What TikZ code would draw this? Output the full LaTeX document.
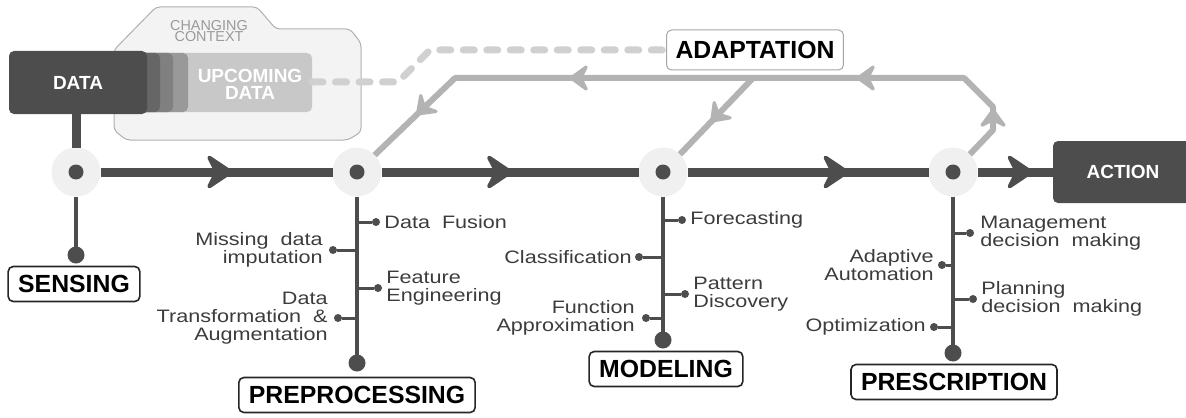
\documentclass[tikz,border=0pt]{standalone}
\usepackage{fontspec}
\setmainfont{Liberation Sans}
\newfontfamily\lblfont[FakeStretch=1.2,WordSpace=2]{Liberation Sans}
\usetikzlibrary{positioning,arrows.meta,decorations.markings}
\definecolor{flowgray}{HTML}{4D4D4D}
\definecolor{hubgray}{HTML}{F0F0F0}
\definecolor{fbgray}{HTML}{B3B3B3}
\definecolor{dashgray}{HTML}{D0D0D0}
\definecolor{lblgray}{HTML}{3C3C3C}
\definecolor{ctxfill}{HTML}{F3F3F3}
\definecolor{ctxline}{HTML}{B0B0B0}
\definecolor{ctxtext}{HTML}{9A9A9A}
\definecolor{upgray}{HTML}{C8C8C8}
\definecolor{layera}{HTML}{999999}
\definecolor{layerb}{HTML}{808080}
\definecolor{layerc}{HTML}{666666}
\tikzset{
  flowhead/.tip={Stealth[length=15pt,width=20pt,inset=5pt,round,line width=2pt]},
  fbhead/.tip={Stealth[length=11pt,width=16pt,inset=4pt,round,line width=1.6pt]},
  hub/.style={circle, fill=hubgray, minimum size=24.5pt, inner sep=0pt, outer sep=0pt},
  bigdot/.style={circle, fill=flowgray, minimum size=8.5pt, inner sep=0pt, outer sep=0pt},
  tdot/.style={circle, fill=flowgray, minimum size=4pt, inner sep=0pt, outer sep=0pt},
  stage/.style={draw=black!85, line width=0.8pt, fill=white, rounded corners=2.5pt,
    font=\fontsize{12.4}{14}\selectfont\bfseries, inner xsep=5pt, inner ysep=0pt, minimum height=17.5pt},
  lbl/.style={font=\lblfont\fontsize{9}{9}\selectfont, text=lblgray, inner sep=0.5pt},
  darkbox/.style={fill=flowgray, rounded corners=2.5pt, text=white, font=\fontsize{9.5}{8.5}\selectfont\bfseries},
  flow/.style={draw=flowgray, line width=4.5pt},
  stem/.style={draw=flowgray, line width=2pt},
  tick/.style={draw=flowgray, line width=1.5pt},
  fback/.style={draw=fbgray, line width=3pt, line join=round},
  ctxdash/.style={draw=dashgray, line width=3.5pt, line cap=round, line join=round, dash pattern=on 5.5pt off 6.25pt},
  flowtip/.style={postaction={decorate}, decoration={markings, mark=at position #1 with {\arrow{flowhead}}}},
  fbtip/.style={postaction={decorate}, decoration={markings, mark=at position #1 with {\arrow{fbhead}}}}
}
\begin{document}
\begin{tikzpicture}[x=0.5pt,y=-0.5pt]
\useasboundingbox (0,0) rectangle (1186,417);

\filldraw[fill=ctxfill, draw=ctxline, line width=0.5pt, rounded corners=2pt]
  (114,50) -- (114,130) -- (126,140) -- (348,140) -- (361,132) -- (361,43)
  -- (350,29) -- (276,29) -- (257,7) -- (156,7) -- cycle;
\node(ctx)      [font=\fontsize{7.2}{5.8}\selectfont, text=ctxtext, align=center] at (209,31) {CHANGING\\CONTEXT};

\fill[upgray, rounded corners=2.5pt] (140,53) rectangle (312,112);
\fill[layera, rounded corners=2.5pt] (140,53) rectangle (188,112);
\fill[layerb, rounded corners=2.5pt] (140,53) rectangle (173,112);
\fill[layerc, rounded corners=2.5pt] (140,53) rectangle (160,112);
\node(data)     [darkbox, minimum width=69pt, minimum height=31.5pt] at (78,82.5) {DATA};
\node(upc)      [text=white, font=\fontsize{9.5}{8.5}\selectfont\bfseries, align=center] at (250,84) {UPCOMING\\DATA};
\coordinate(upend) at (312,82);

\node(adapt)    [stage, draw=gray!70, line width=0.5pt, minimum height=20pt, inner xsep=4.5pt] at (755,50) {ADAPTATION};
\node(act)      [darkbox, minimum width=70pt, minimum height=31pt] at (1123,172) {ACTION};

\node(sens)     [hub] at (76,172)  {};
\node(prep)     [hub] at (357,172) {};
\node(model)    [hub] at (663,172) {};
\node(presc)    [hub] at (953,172) {};

\coordinate(fb1) at (993,130);
\coordinate(fb2) at (993,107);
\coordinate(fb3) at (964,78);
\coordinate(fb4) at (455,78);
\coordinate(fb5) at (753,78);

\draw[ctxdash]  (upend) -- (398,82) -- (430,50) -- (adapt);
\draw[fback, postaction={decorate}, decoration={markings,
    mark=at position 27.5pt with {\arrow{fbhead}},
    mark=at position 102.5pt with {\arrow{fbhead}},
    mark=at position 246pt with {\arrow{fbhead}},
    mark=at position 330pt with {\arrow{fbhead}}}]
  (presc) -- (fb1) -- (fb2) -- (fb3) -- (fb4) -- (prep);
\draw[fback, fbtip=0.58] (fb5) -- (model);

\draw[flow]              (data.south -| sens) -- (sens);
\draw[flow, flowtip=0.57] (sens)  -- (prep);
\draw[flow, flowtip=0.51] (prep)  -- (model);
\draw[flow, flowtip=0.67] (model) -- (presc);
\draw[flow, flowtip=0.74] (presc) -- (act);

\foreach \h in {sens,prep,model,presc}
  \fill[flowgray] (\h) circle (3.75pt);

\node(sdot)     [bigdot] at (76,255)  {};
\node(pdot)     [bigdot] at (357,363) {};
\node(mdot)     [bigdot] at (663,340) {};
\node(rdot)     [bigdot] at (953,353) {};
\draw[stem]     (sens)  -- (sdot);
\draw[stem]     (prep)  -- (pdot);
\draw[stem]     (model) -- (mdot);
\draw[stem]     (presc) -- (rdot);

\node(sensing)  [stage] at (74,284)  {SENSING};
\node(preproc)  [stage] at (357,395) {PREPROCESSING};
\node(modeling) [stage] at (666,369) {MODELING};
\node(prescr)   [stage] at (954,382) {PRESCRIPTION};

\node(tdf)      [tdot] at (376,222) {};
\node(tmd)      [tdot] at (333,250) {};
\node(tfe)      [tdot] at (378,288) {};
\node(tdt)      [tdot] at (338,318) {};
\node(tfc)      [tdot] at (682,220) {};
\node(tcl)      [tdot] at (639,257) {};
\node(tpd)      [tdot] at (685,294) {};
\node(tfa)      [tdot] at (646,318) {};
\node(tmg)      [tdot] at (970,233) {};
\node(taa)      [tdot] at (942,265) {};
\node(tpl)      [tdot] at (973,299) {};
\node(top)      [tdot] at (934,327) {};

\draw[tick]     (tdf) -- (tdf -| prep);
\draw[tick]     (tmd) -- (tmd -| prep);
\draw[tick]     (tfe) -- (tfe -| prep);
\draw[tick]     (tdt) -- (tdt -| prep);
\draw[tick]     (tfc) -- (tfc -| model);
\draw[tick]     (tcl) -- (tcl -| model);
\draw[tick]     (tpd) -- (tpd -| model);
\draw[tick]     (tfa) -- (tfa -| model);
\draw[tick]     (tmg) -- (tmg -| presc);
\draw[tick]     (taa) -- (taa -| presc);
\draw[tick]     (tpl) -- (tpl -| presc);
\draw[tick]     (top) -- (top -| presc);

\node(ldf)      [lbl, right=1.5pt of tdf]               {Data Fusion};
\node(lmd)      [lbl, left=2.5pt of tmd, align=right]   {Missing data\\imputation};
\node(lfe)      [lbl, right=1.5pt of tfe, align=left]   {Feature\\Engineering};
\node(ldt)      [lbl, left=2.5pt of tdt, align=right]   {Data\\Transformation \&\\Augmentation};
\node(lfc)      [lbl, right=1.5pt of tfc]               {Forecasting};
\node(lcl)      [lbl, left=1pt of tcl]                  {Classification};
\node(lpd)      [lbl, right=1.5pt of tpd, align=left]   {Pattern\\Discovery};
\node(lfa)      [lbl, left=3pt of tfa, align=right]     {Function\\Approximation};
\node(lmg)      [lbl, right=2.5pt of tmg, align=left]   {Management\\decision making};
\node(laa)      [lbl, left=1.5pt of taa, align=right]   {Adaptive\\Automation};
\node(lpl)      [lbl, right=1.5pt of tpl, align=left]   {Planning\\decision making};
\node(lop)      [lbl, left=1.5pt of top]                {Optimization};
\end{tikzpicture}
\end{document}
